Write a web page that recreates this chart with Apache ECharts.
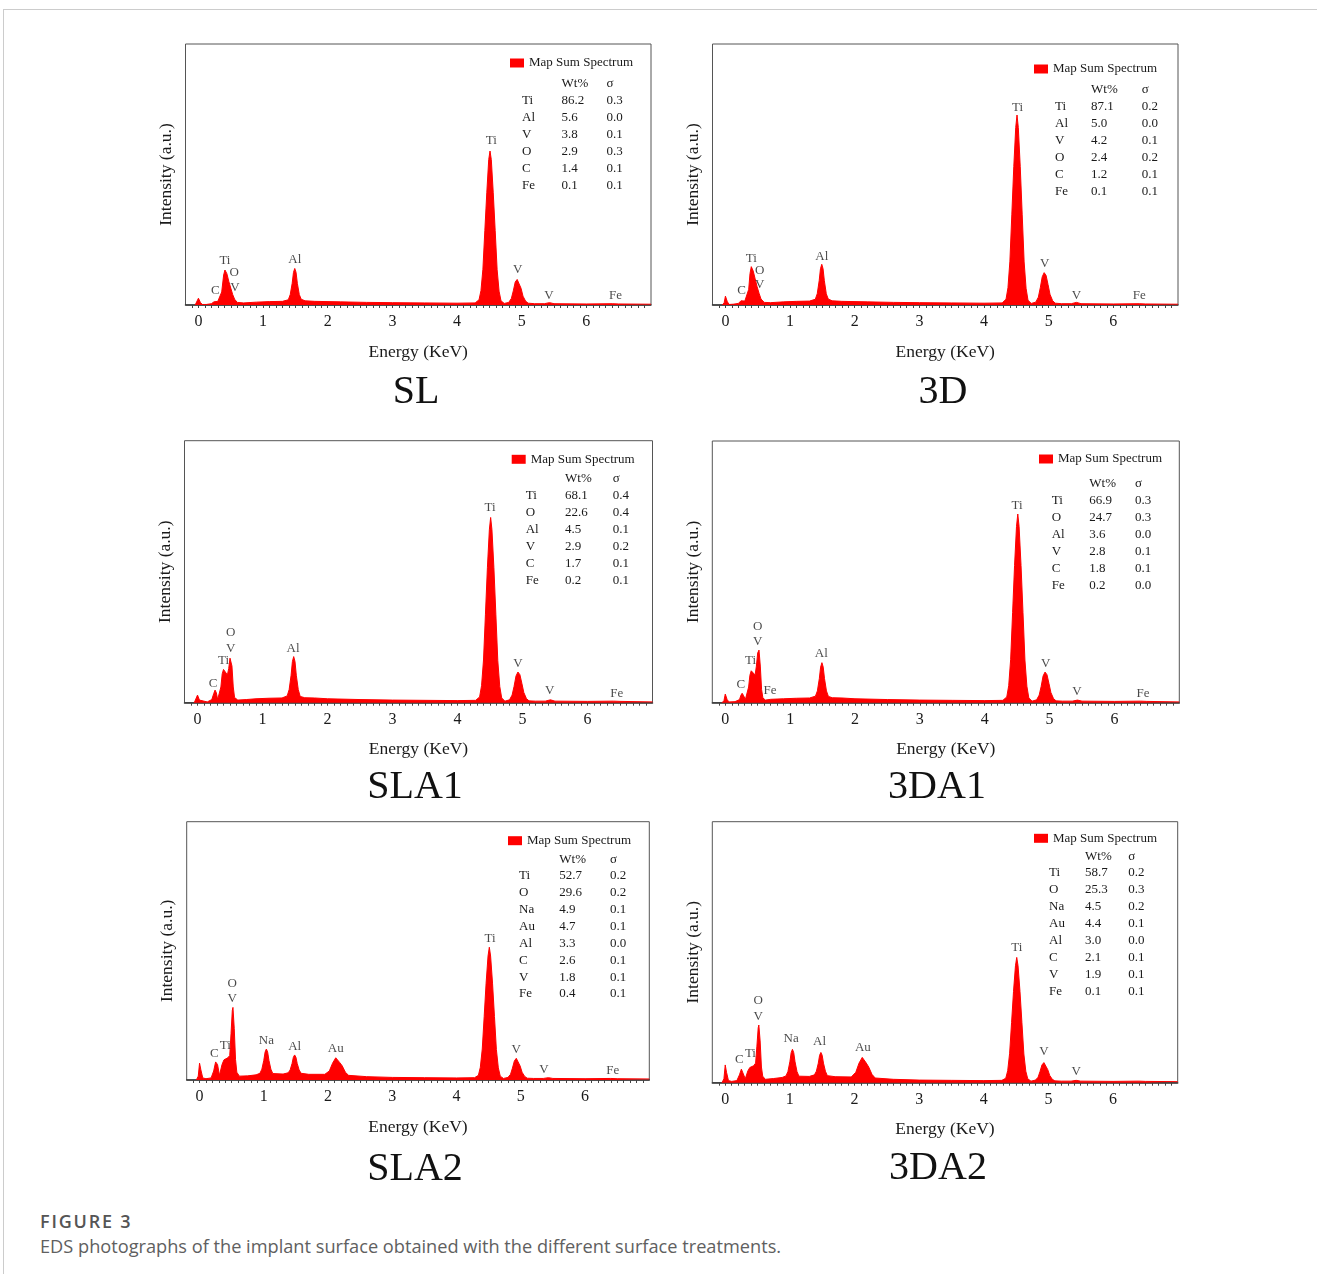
<!DOCTYPE html>
<html>
<head>
<meta charset="utf-8">
<script src="https://cdn.jsdelivr.net/npm/echarts@6/dist/echarts.min.js"></script>
<style>
  html, body { margin: 0; padding: 0; background: #fff; }
  body { width: 1317px; height: 1274px; position: relative; overflow: hidden; }
  #card { position: absolute; left: 3px; top: 9px; width: 1400px; height: 1300px;
          border-top: 1px solid #cccccc; border-left: 1px solid #cccccc; }
  #chart { position: absolute; left: 0; top: 0; width: 1317px; height: 1200px; }
  #caption { position: absolute; left: 40px; top: 1208px; font-family: "Open Sans", sans-serif; color: #555; }
  #caption .fig { font-size: 18px; font-weight: 600; letter-spacing: 1.8px; line-height: 26px; }
  #caption .desc { font-size: 18.2px; font-weight: 400; line-height: 25px; color: #606060; }
</style>
</head>
<body>
<div id="card"></div>
<div id="chart"></div>
<div id="caption">
  <div class="fig">FIGURE 3</div>
  <div class="desc">EDS photographs of the implant surface obtained with the different surface treatments.</div>
</div>
<script>
// x axis ticks (keV)
const tickValues = [0, 1, 2, 3, 4, 5, 6];
const tickLabels = ['0', '1', '2', '3', '4', '5', '6'];

// spectra: [energy keV, intensity in % of frame height]
const slSpectrum = [[-0.05,0],[-0.02,0.6],[0,2.6],[0.03,1.0],[0.06,0.2],[0.12,0.2],[0.2,0.5],[0.24,1.2],[0.27,1.9],[0.3,1.4],[0.33,1.6],[0.36,5],[0.39,11.5],[0.41,13.4],[0.44,12],[0.47,9],[0.5,6.5],[0.53,4],[0.56,2.2],[0.6,1.0],[0.7,0.8],[0.9,1.1],[1.1,1.3],[1.3,1.4],[1.39,2.0],[1.42,4],[1.45,8.3],[1.47,12.5],[1.49,14],[1.51,12.5],[1.53,8.3],[1.56,4],[1.59,2.2],[1.65,1.6],[1.8,1.4],[2.2,1.2],[2.6,1.0],[3.0,0.9],[3.5,0.8],[4.0,0.7],[4.28,0.8],[4.34,2],[4.37,5.5],[4.40,13.7],[4.43,28.5],[4.46,43],[4.49,55.7],[4.51,59],[4.53,55.7],[4.56,43],[4.59,28.5],[4.62,13.5],[4.65,5.3],[4.68,1.6],[4.73,0.6],[4.80,1],[4.84,2.5],[4.87,5.4],[4.90,8.8],[4.93,9.8],[4.96,9.3],[4.99,6.4],[5.02,3.4],[5.06,1.5],[5.10,0.7],[5.2,0.5],[5.35,0.5],[5.43,0.9],[5.5,0.5],[6.0,0.4],[6.4,0.5],[6.5,0.4],[7.0,0.3]];
const d3Spectrum = [[-0.05,0],[-0.02,0.8],[0,3.4],[0.03,1.2],[0.06,0.2],[0.12,0.3],[0.2,0.6],[0.24,1.6],[0.27,2.2],[0.3,1.5],[0.33,1.8],[0.36,6],[0.38,12],[0.40,14.7],[0.43,13],[0.46,10],[0.49,7],[0.52,4.5],[0.55,2.3],[0.6,1.0],[0.7,0.9],[0.9,1.2],[1.1,1.4],[1.3,1.5],[1.39,2.2],[1.42,4.3],[1.45,9.3],[1.47,13.9],[1.49,15.6],[1.51,13.9],[1.53,9.3],[1.56,4.3],[1.59,2.3],[1.65,1.6],[1.8,1.4],[2.2,1.2],[2.6,1.0],[3.0,0.9],[3.5,0.8],[4.0,0.7],[4.28,0.8],[4.34,2.2],[4.37,6.6],[4.40,16.8],[4.43,34.8],[4.46,53],[4.49,68],[4.51,72.8],[4.53,68],[4.56,53],[4.59,34.8],[4.62,16.5],[4.65,6.4],[4.68,1.8],[4.73,0.6],[4.80,1.1],[4.84,3],[4.87,6.6],[4.90,10.8],[4.93,12.4],[4.96,11.3],[4.99,7.8],[5.02,4.1],[5.06,1.7],[5.10,0.7],[5.2,0.5],[5.35,0.5],[5.43,1.0],[5.5,0.5],[6.0,0.4],[6.4,0.5],[6.5,0.4],[7.0,0.3]];
const sla1Spectrum = [[-0.05,0],[-0.02,0.7],[0,2.9],[0.03,1.0],[0.06,0.3],[0.15,0.3],[0.22,1.2],[0.25,3.5],[0.27,4.8],[0.29,3.8],[0.31,1.2],[0.34,1.5],[0.36,6],[0.38,11],[0.40,12.7],[0.43,12.2],[0.46,10.6],[0.48,13],[0.5,17],[0.51,17.6],[0.53,14],[0.55,6],[0.57,2],[0.62,1.0],[0.75,1.2],[0.9,1.5],[1.1,1.7],[1.3,1.8],[1.38,2.6],[1.41,5],[1.44,10.5],[1.46,15.7],[1.48,17.6],[1.50,15.7],[1.52,10.5],[1.55,5],[1.58,2.4],[1.65,1.9],[1.8,1.8],[2.0,1.5],[2.5,1.2],[3.0,1.0],[3.5,0.9],[4.0,0.8],[4.28,0.9],[4.34,2.2],[4.37,6.5],[4.40,16.3],[4.43,33.8],[4.46,51.5],[4.49,66],[4.51,70.7],[4.53,66],[4.56,51.5],[4.59,33.8],[4.62,16],[4.65,6.2],[4.68,1.8],[4.73,0.6],[4.80,1.1],[4.84,2.9],[4.87,6.2],[4.90,10.2],[4.93,11.7],[4.96,10.7],[4.99,7.4],[5.02,3.9],[5.06,1.6],[5.10,0.7],[5.2,0.6],[5.35,0.6],[5.43,1.1],[5.5,0.6],[6.0,0.5],[6.4,0.6],[6.5,0.5],[7.0,0.3]];
const da1Spectrum = [[-0.05,0],[-0.02,0.8],[0,3.3],[0.03,1.1],[0.06,0.3],[0.15,0.4],[0.22,1.2],[0.24,2.8],[0.26,3.6],[0.28,2.8],[0.31,1.2],[0.34,1.5],[0.36,6],[0.38,10.5],[0.40,12.2],[0.43,11.8],[0.46,10.6],[0.48,14],[0.50,19],[0.52,20.1],[0.54,14],[0.56,5],[0.58,1.8],[0.62,1.0],[0.7,1.3],[0.9,1.5],[1.1,1.7],[1.3,1.8],[1.39,2.5],[1.42,4.5],[1.45,9.2],[1.47,13.6],[1.49,15.3],[1.51,13.6],[1.53,9.2],[1.56,4.5],[1.59,2.4],[1.65,1.9],[1.8,1.8],[2.0,1.5],[2.5,1.2],[3.0,1.0],[3.5,0.9],[4.0,0.8],[4.28,0.9],[4.34,2.2],[4.37,6.5],[4.40,16.6],[4.43,34.4],[4.46,52.4],[4.49,67.3],[4.51,72.1],[4.53,67.3],[4.56,52.4],[4.59,34.4],[4.62,16.3],[4.65,6.3],[4.68,1.8],[4.73,0.6],[4.80,1.1],[4.84,2.9],[4.87,6.2],[4.90,10.2],[4.93,11.7],[4.96,10.7],[4.99,7.4],[5.02,3.9],[5.06,1.6],[5.10,0.7],[5.2,0.6],[5.35,0.6],[5.43,1.0],[5.5,0.6],[6.0,0.5],[6.4,0.6],[6.5,0.5],[7.0,0.3]];
const sla2Spectrum = [[-0.05,0],[-0.02,1.5],[0,6.5],[0.02,4],[0.05,0.8],[0.1,0.5],[0.18,0.8],[0.22,3.5],[0.25,7],[0.26,7.5],[0.28,6],[0.31,1.8],[0.33,1.5],[0.35,6],[0.38,7.8],[0.41,8],[0.44,8.6],[0.47,9.5],[0.49,18],[0.51,27],[0.52,28.1],[0.54,20],[0.56,8],[0.58,3],[0.62,1.5],[0.75,1.6],[0.88,2],[0.94,2.6],[0.97,4.2],[1.0,7.6],[1.02,10.8],[1.04,12],[1.06,10.8],[1.08,7.6],[1.11,4.2],[1.14,2.5],[1.3,2.3],[1.38,2.8],[1.41,3.9],[1.44,6.4],[1.46,8.8],[1.48,9.7],[1.50,8.8],[1.52,6.4],[1.55,3.9],[1.58,2.6],[1.7,2.2],[1.95,2.2],[2.02,3.5],[2.07,6.5],[2.12,8.6],[2.14,8.4],[2.18,6.8],[2.22,5.5],[2.27,3],[2.32,1.8],[2.6,1.3],[3.0,1.0],[3.5,0.9],[4.0,0.8],[4.28,0.9],[4.34,1.8],[4.37,4.9],[4.40,12],[4.43,24.6],[4.46,37.5],[4.49,48],[4.51,51.4],[4.53,48],[4.56,37.5],[4.59,24.6],[4.62,11.8],[4.65,4.7],[4.68,1.5],[4.73,0.6],[4.80,1],[4.84,2.2],[4.87,4.6],[4.90,7.4],[4.93,8.4],[4.96,7.7],[4.99,5.4],[5.02,3],[5.06,1.4],[5.10,0.7],[5.2,0.6],[5.35,0.6],[5.43,0.9],[5.5,0.6],[6.0,0.5],[6.4,0.6],[6.5,0.5],[7.0,0.4]];
const da2Spectrum = [[-0.05,0],[-0.02,1.5],[0,6.8],[0.02,4],[0.05,0.8],[0.1,0.5],[0.18,0.8],[0.22,3],[0.25,5.2],[0.26,5.5],[0.28,4.5],[0.31,1.5],[0.33,1.5],[0.35,4.5],[0.38,5.8],[0.41,6],[0.44,6.5],[0.47,7.5],[0.49,14],[0.51,21],[0.52,22.1],[0.54,16],[0.56,6],[0.58,2.5],[0.62,1.3],[0.75,1.6],[0.88,2],[0.94,2.6],[0.97,4.3],[1.0,8],[1.02,11.5],[1.04,12.8],[1.06,11.5],[1.08,8],[1.11,4.3],[1.14,2.5],[1.3,2.4],[1.38,3],[1.41,4.4],[1.44,7.5],[1.46,10.5],[1.48,11.6],[1.50,10.5],[1.52,7.5],[1.55,4.4],[1.58,2.7],[1.7,2.3],[1.95,2.2],[2.02,4],[2.07,7.5],[2.12,9.7],[2.14,9.5],[2.18,7.6],[2.22,6],[2.27,3.2],[2.32,1.8],[2.6,1.3],[3.0,1.0],[3.5,0.9],[4.0,0.8],[4.28,0.9],[4.34,1.7],[4.37,4.6],[4.40,11.3],[4.43,23],[4.46,35],[4.49,44.8],[4.51,48],[4.53,44.8],[4.56,35],[4.59,23],[4.62,11],[4.65,4.4],[4.68,1.5],[4.73,0.6],[4.80,1],[4.84,2.1],[4.87,4.3],[4.90,6.8],[4.93,7.7],[4.96,7.1],[4.99,5],[5.02,2.8],[5.06,1.3],[5.10,0.7],[5.2,0.6],[5.35,0.6],[5.43,0.9],[5.5,0.6],[6.0,0.5],[6.4,0.6],[6.5,0.5],[7.0,0.4]];

// peak labels: [text, energy keV, height %]
const slPeaks = [['C',0.26,5.7],['Ti',0.41,17],['O',0.555,12.5],['V',0.565,6.8],['Al',1.49,17.5],['Ti',4.53,63],['V',4.94,13.4],['V',5.42,3.8],['Fe',6.45,3.8]];
const d3Peaks = [['C',0.25,5.7],['Ti',0.40,17.9],['O',0.53,13.2],['V',0.53,8],['Al',1.49,18.5],['Ti',4.52,75.6],['V',4.94,15.7],['V',5.43,3.8],['Fe',6.40,3.8]];
const sla1Peaks = [['C',0.24,7.4],['Ti',0.40,16],['O',0.51,26.8],['V',0.51,20.7],['Al',1.47,20.7],['Ti',4.50,74.6],['V',4.93,14.8],['V',5.42,4.6],['Fe',6.45,3.6]];
const da1Peaks = [['C',0.24,7.1],['Ti',0.39,16.1],['O',0.50,29],['V',0.50,23.3],['Fe',0.69,4.6],['Al',1.48,18.6],['Ti',4.50,75.5],['V',4.94,15],['V',5.42,4.2],['Fe',6.44,3.6]];
const sla2Peaks = [['C',0.23,10.3],['Ti',0.40,13.3],['O',0.51,37.2],['V',0.51,31.6],['Na',1.04,15.2],['Al',1.48,12.9],['Au',2.12,12],['Ti',4.52,54.6],['V',4.93,11.9],['V',5.36,3.9],['Fe',6.43,3.6]];
const da2Peaks = [['C',0.22,8.9],['Ti',0.39,11.2],['O',0.51,31.4],['V',0.51,25.5],['Na',1.02,17],['Al',1.46,15.7],['Au',2.13,13.4],['Ti',4.51,51.9],['V',4.93,12.1],['V',5.43,4.2]];

// quantification tables: [element, Wt%, sigma]
const slTable = [['Ti','86.2','0.3'],['Al','5.6','0.0'],['V','3.8','0.1'],['O','2.9','0.3'],['C','1.4','0.1'],['Fe','0.1','0.1']];
const d3Table = [['Ti','87.1','0.2'],['Al','5.0','0.0'],['V','4.2','0.1'],['O','2.4','0.2'],['C','1.2','0.1'],['Fe','0.1','0.1']];
const sla1Table = [['Ti','68.1','0.4'],['O','22.6','0.4'],['Al','4.5','0.1'],['V','2.9','0.2'],['C','1.7','0.1'],['Fe','0.2','0.1']];
const da1Table = [['Ti','66.9','0.3'],['O','24.7','0.3'],['Al','3.6','0.0'],['V','2.8','0.1'],['C','1.8','0.1'],['Fe','0.2','0.0']];
const sla2Table = [['Ti','52.7','0.2'],['O','29.6','0.2'],['Na','4.9','0.1'],['Au','4.7','0.1'],['Al','3.3','0.0'],['C','2.6','0.1'],['V','1.8','0.1'],['Fe','0.4','0.1']];
const da2Table = [['Ti','58.7','0.2'],['O','25.3','0.3'],['Na','4.5','0.2'],['Au','4.4','0.1'],['Al','3.0','0.0'],['C','2.1','0.1'],['V','1.9','0.1'],['Fe','0.1','0.1']];

const SERIF = '"Liberation Serif", "Times New Roman", serif';
const INK = '#1a1a1a';

// layout per panel (px)
const panels = [
  { name: 'SL',   spectrum: slSpectrum,   peaks: slPeaks,   table: slTable,
    grid: [185.5, 44, 465.5, 261], title: [416, 392], legend: [510, 63], head: 83.3, row0: 101, step: 17, cols: [522, 561.5, 606.5] },
  { name: '3D',   spectrum: d3Spectrum,   peaks: d3Peaks,   table: d3Table,
    grid: [712.5, 44, 465.5, 261], title: [943, 392], legend: [1034, 69], head: 90, row0: 106.7, step: 17, cols: [1055, 1091, 1141.7] },
  { name: 'SLA1', spectrum: sla1Spectrum, peaks: sla1Peaks, table: sla1Table,
    grid: [184.5, 440.7, 468, 262], title: [415, 787], legend: [511.7, 459.3], head: 479, row0: 495.7, step: 17, cols: [525.7, 565, 612.7] },
  { name: '3DA1', spectrum: da1Spectrum,  peaks: da1Peaks,  table: da1Table,
    grid: [712.3, 441, 467, 261.7], title: [937, 787], legend: [1039, 459], head: 483.3, row0: 500.7, step: 17, cols: [1051.7, 1089.3, 1135] },
  { name: 'SLA2', spectrum: sla2Spectrum, peaks: sla2Peaks, table: sla2Table,
    grid: [186.7, 821.7, 462.6, 258.3], title: [415, 1169], legend: [508, 840.7], head: 859.3, row0: 875.7, step: 16.9, cols: [519, 559.3, 610] },
  { name: '3DA2', spectrum: da2Spectrum,  peaks: da2Peaks,  table: da2Table,
    grid: [712.3, 821.7, 465.4, 261], title: [938, 1168], legend: [1034, 838.3], head: 856.7, row0: 872.7, step: 17, cols: [1049, 1085, 1128.3] },
];

// minor ticks every 0.1 keV
const minorTicks = [];
for (let i = -1; i < 70; i++) {
  minorTicks.push(i / 10);
}

function tableText(p) {
  const font = '13px ' + SERIF;
  const items = [
    { type: 'text', x: p.cols[1], y: p.head, style: { text: 'Wt%', font, fill: INK, verticalAlign: 'middle' } },
    { type: 'text', x: p.cols[2], y: p.head, style: { text: 'σ', font, fill: INK, verticalAlign: 'middle' } },
  ];
  p.table.forEach((row, r) => {
    row.forEach((cell, c) => {
      items.push({
        type: 'text', x: p.cols[c], y: p.row0 + r * p.step,
        style: { text: cell, font, fill: INK, verticalAlign: 'middle' },
      });
    });
  });
  return items;
}

const chart = echarts.init(document.getElementById('chart'), null, { renderer: 'canvas' });

chart.setOption({
  animation: false,
  backgroundColor: 'transparent',
  title: panels.map((p) => ({
    text: p.name, left: p.title[0] - 5, top: p.title[1] - 25, textAlign: 'center',
    textStyle: { fontFamily: SERIF, fontSize: 40, fontWeight: 'normal', color: '#111' },
  })),
  legend: panels.map((p) => ({
    data: ['Map Sum Spectrum'], left: p.legend[0], top: p.legend[1] - 7, padding: 0,
    icon: 'rect', itemWidth: 14, itemHeight: 9, selectedMode: false,
    itemStyle: { color: '#ff0000', borderWidth: 0 },
    textStyle: { fontFamily: SERIF, fontSize: 13, color: INK, lineHeight: 14 },
  })),
  grid: panels.map((p) => ({
    left: p.grid[0], top: p.grid[1], width: p.grid[2], height: p.grid[3],
    show: true, borderColor: '#555', borderWidth: 1,
  })),
  xAxis: panels.map((p, i) => ({
    gridIndex: i, type: 'value', min: -0.2, max: 7,
    name: 'Energy (KeV)', nameLocation: 'middle', nameGap: 38,
    nameTextStyle: { fontFamily: SERIF, fontSize: 17.5, color: INK },
    axisLine: { show: true, onZero: false, lineStyle: { color: '#333', width: 1.5 } },
    axisTick: { show: true, customValues: minorTicks, length: 3, lineStyle: { color: '#444', width: 1 } },
    axisLabel: {
      customValues: tickValues, margin: 9,
      formatter: (v) => tickLabels[tickValues.indexOf(Math.round(v))],
      fontFamily: SERIF, fontSize: 16, color: INK,
    },
    splitLine: { show: false },
  })),
  yAxis: panels.map((p, i) => ({
    gridIndex: i, type: 'value', min: 0, max: 100,
    name: 'Intensity (a.u.)', nameLocation: 'middle', nameGap: 10,
    nameTextStyle: { fontFamily: SERIF, fontSize: 17.5, color: INK },
    axisLine: { show: false }, axisTick: { show: false }, axisLabel: { show: false },
    splitLine: { show: false },
  })),
  series: panels.flatMap((p, i) => [
    {
      name: 'Map Sum Spectrum', type: 'line', xAxisIndex: i, yAxisIndex: i,
      data: p.spectrum, showSymbol: false, symbol: 'none', silent: true,
      itemStyle: { color: '#ff0000' },
      lineStyle: { color: '#ff0000', width: 1 },
      areaStyle: { color: '#ff0000', opacity: 1 },
      z: 2,
    },
    {
      name: 'peaks', type: 'scatter', xAxisIndex: i, yAxisIndex: i,
      symbolSize: 1, silent: true, itemStyle: { color: 'rgba(0,0,0,0)' },
      data: p.peaks.map((k) => ({ name: k[0], value: [k[1], k[2]] })),
      label: { show: true, position: 'inside', formatter: '{b}', fontFamily: SERIF, fontSize: 13, color: INK },
      z: 5,
    },
  ]),
  graphic: panels.flatMap(tableText),
});
</script>
</body>
</html>
